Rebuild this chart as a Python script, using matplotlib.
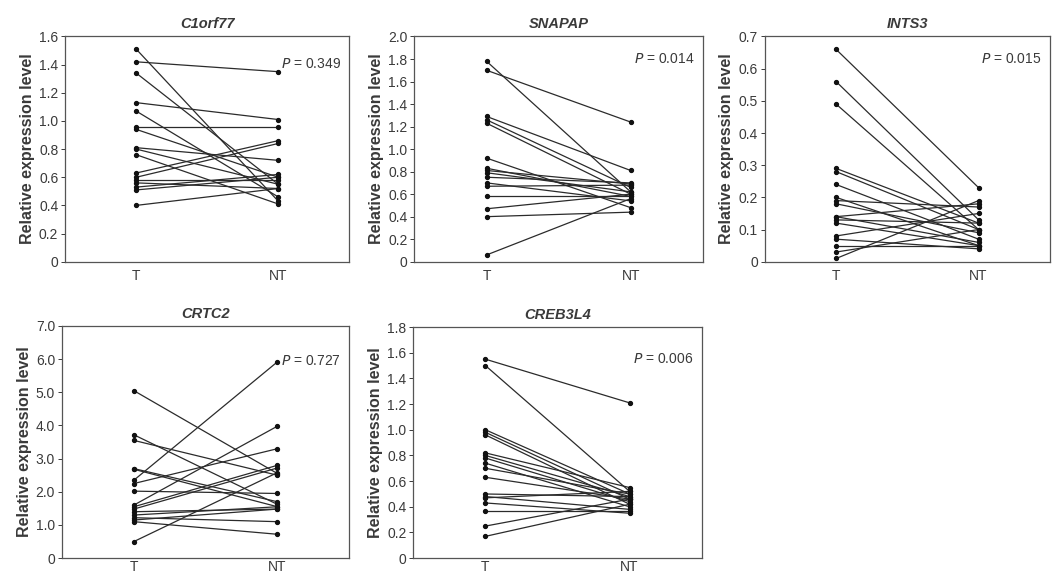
import matplotlib
matplotlib.use("Agg")
import matplotlib.pyplot as plt
from matplotlib.ticker import FuncFormatter, MultipleLocator

plt.rcParams['font.family'] = ['Liberation Sans', 'DejaVu Sans']

# valores: (T, NT) por muestra
genes = ['C1orf77', 'SNAPAP', 'INTS3', 'CRTC2', 'CREB3L4']
p_values = ['0.349', '0.014', '0.015', '0.727', '0.006']
y_max = [1.6, 2.0, 0.7, 7.0, 1.8]
y_step = [0.2, 0.2, 0.1, 1.0, 0.2]

c1orf77_T = [1.51, 1.42, 1.34, 1.13, 1.07, 0.96, 0.94, 0.81, 0.80, 0.76, 0.63, 0.60, 0.58, 0.56, 0.53, 0.51, 0.40]
c1orf77_NT = [0.43, 1.35, 0.55, 1.01, 0.46, 0.96, 0.60, 0.72, 0.55, 0.41, 0.86, 0.84, 0.58, 0.52, 0.62, 0.60, 0.52]

snapap_T = [1.78, 1.70, 1.29, 1.26, 1.23, 0.92, 0.83, 0.81, 0.79, 0.75, 0.70, 0.67, 0.58, 0.47, 0.40, 0.06]
snapap_NT = [0.62, 1.24, 0.81, 0.66, 0.60, 0.48, 0.58, 0.69, 0.62, 0.70, 0.54, 0.68, 0.58, 0.60, 0.44, 0.56]

ints3_T = [0.66, 0.56, 0.49, 0.29, 0.28, 0.24, 0.20, 0.19, 0.18, 0.14, 0.14, 0.13, 0.12, 0.08, 0.07, 0.05, 0.03, 0.01]
ints3_NT = [0.23, 0.13, 0.10, 0.12, 0.10, 0.07, 0.05, 0.17, 0.09, 0.18, 0.06, 0.12, 0.05, 0.15, 0.04, 0.05, 0.10, 0.19]

crtc2_T = [5.05, 3.72, 3.55, 2.70, 2.68, 2.35, 2.25, 2.02, 1.60, 1.55, 1.48, 1.40, 1.30, 1.22, 1.15, 1.10, 0.50]
crtc2_NT = [2.55, 1.62, 2.50, 1.70, 1.55, 5.92, 3.30, 1.95, 3.98, 2.80, 2.72, 1.48, 1.55, 1.10, 1.48, 0.72, 2.58]

creb3l4_T = [1.55, 1.50, 1.00, 0.98, 0.96, 0.82, 0.80, 0.78, 0.74, 0.70, 0.63, 0.50, 0.48, 0.47, 0.43, 0.37, 0.25, 0.17]
creb3l4_NT = [1.21, 0.52, 0.50, 0.46, 0.42, 0.55, 0.48, 0.44, 0.40, 0.50, 0.46, 0.48, 0.38, 0.52, 0.35, 0.37, 0.46, 0.42]

data_T = [c1orf77_T, snapap_T, ints3_T, crtc2_T, creb3l4_T]
data_NT = [c1orf77_NT, snapap_NT, ints3_NT, crtc2_NT, creb3l4_NT]
groups = ['T', 'NT']

# posiciones de los ejes en fracciones de la figura
boxes = [
    [0.062, 0.548, 0.270, 0.389],
    [0.394, 0.548, 0.274, 0.389],
    [0.727, 0.548, 0.271, 0.389],
    [0.059, 0.036, 0.273, 0.401],
    [0.393, 0.036, 0.274, 0.399],
]
p_ypos = [0.88, 0.90, 0.90, 0.85, 0.86]

fig = plt.figure(figsize=(10.52, 5.79), dpi=100)
text_col = '#3a3a3a'

for i, gene in enumerate(genes):
    ax = fig.add_axes(boxes[i])
    for t, nt in zip(data_T[i], data_NT[i]):
        ax.plot([0, 1], [t, nt], color='#2b2b2b', lw=0.9,
                marker='o', ms=2.8, mfc='#111111', mec='#111111')
    ax.set_xlim(-0.5, 1.5)
    ax.set_ylim(0, y_max[i])
    ax.set_xticks([0, 1])
    ax.set_xticklabels(groups)
    ax.yaxis.set_major_locator(MultipleLocator(y_step[i]))
    ax.yaxis.set_major_formatter(FuncFormatter(lambda v, pos: '0' if abs(v) < 1e-9 else f'{v:.1f}'))
    ax.tick_params(axis='y', direction='out', length=3, width=0.7, labelsize=10,
                   colors=text_col, pad=2)
    ax.tick_params(axis='x', length=0, labelsize=10, colors=text_col,
                   pad=5 if i < 3 else 1.5)
    for s in ax.spines.values():
        s.set_color('#555555')
        s.set_linewidth(0.9)
    ax.set_ylabel('Relative expression level', fontsize=11.5, fontweight='bold',
                  color=text_col, labelpad=3)
    ax.set_title(gene, fontsize=10.5, fontweight='bold', style='italic',
                 color=text_col, pad=6)
    ax.text(0.97, p_ypos[i], r'$\it{P}$' + ' = ' + p_values[i], transform=ax.transAxes,
            ha='right', va='center', fontsize=10, color=text_col)

fig.savefig('out.png', dpi=100)
